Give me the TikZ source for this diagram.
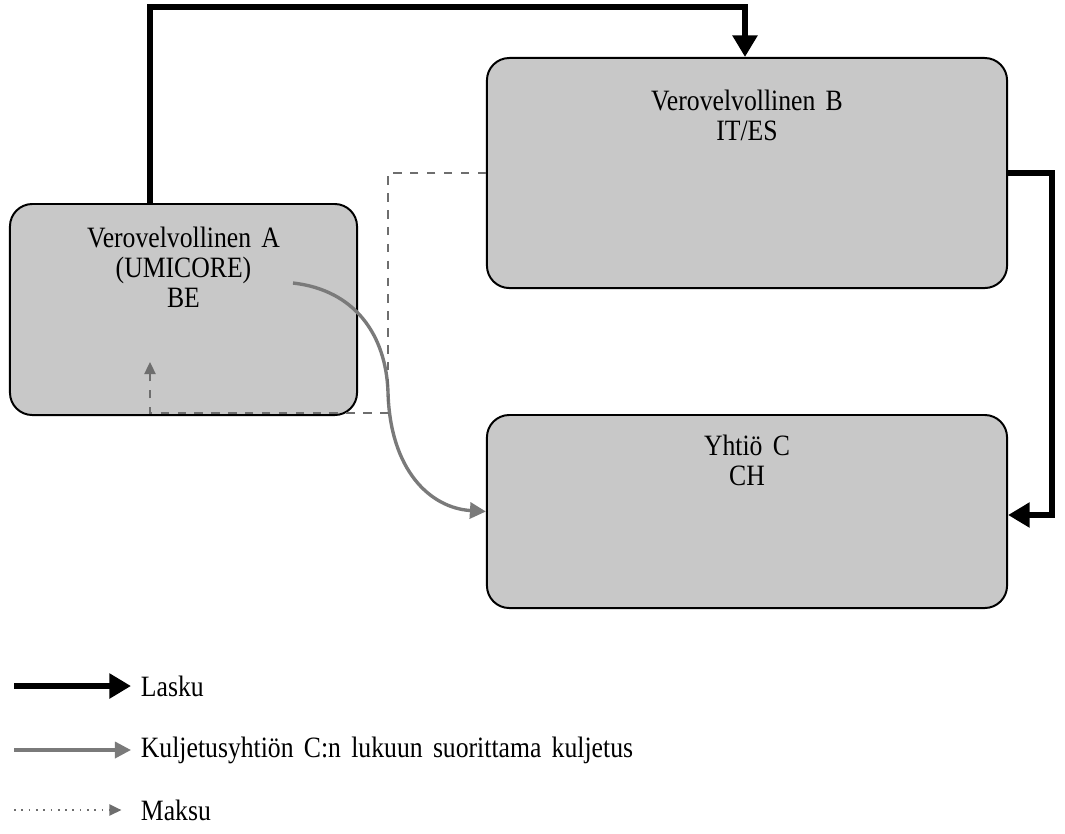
\documentclass[tikz,border=0pt]{standalone}
\usepackage{fontspec}
\setmainfont{Liberation Serif}[FakeStretch=0.87, WordSpace=1.6]
\usetikzlibrary{arrows.meta,positioning}

\definecolor{boxgray}{RGB}{200,200,200}
\definecolor{transportgray}{RGB}{122,122,122}
\definecolor{paygray}{RGB}{110,110,110}

\tikzset{
  box/.style={draw, line width=0.7pt, fill=boxgray, rounded corners=0.28cm},
  boxtext/.style={align=center, font=\fontsize{10.5}{10.6}\selectfont},
  legtext/.style={anchor=west, font=\fontsize{10.5}{12}\selectfont},
  lasku/.style={line width=2.1pt, -{Triangle[length=0.27cm,width=0.3cm]}},
  kuljetus/.style={transportgray, line width=1.2pt, -{Triangle[length=0.2cm,width=0.2cm]}},
  maksu/.style={paygray, line width=0.6pt, dashed, -{Triangle[length=0.15cm,width=0.14cm]}}
}

\begin{document}
\begin{tikzpicture}[x=0.0125cm, y=-0.0125cm]

  \useasboundingbox (0,0) rectangle (1065,833);

  % Laatikot
  \node[box, minimum width=4.3375cm, minimum height=2.6375cm] (A) at (183.5,309.5) {};
  \node[box, minimum width=6.5cm, minimum height=2.875cm] (B) at (747,173) {};
  \node[box, minimum width=6.5cm, minimum height=2.4125cm] (C) at (747,511.5) {};

  % Tekstit
  \node[boxtext, anchor=north] (Atext) at ([yshift=-0.175cm]A.north)
    {Verovelvollinen A\\(UMICORE)\\BE};
  \node[boxtext, anchor=north] (Btext) at ([yshift=-0.29cm]B.north)
    {Verovelvollinen B\\IT/ES};
  \node[boxtext, anchor=north] (Ctext) at ([yshift=-0.14cm]C.north)
    {Yhtiö C\\CH};

  % Lasku A -> B
  \coordinate (top1) at (150,7);
  \coordinate (top2) at (745,7);
  \draw[lasku] (A.north -| top1) -- (top1) -- (top2) -- (B.north -| top2);

  % Lasku B -> C
  \coordinate (right1) at (1052,173);
  \coordinate (right2) at (1052,515);
  \draw[lasku] (B.east) -- (right1) -- (right2) -- (C.east |- right2);

  % Kuljetus A -> C
  \coordinate (kstart) at (293,283);
  \coordinate (kmid) at (388,392);
  \draw[kuljetus] (kstart) .. controls (355,290) and (386,335) .. (kmid)
    .. controls (390,470) and (430,508) .. (C.west);

  % Maksu B -> A
  \coordinate (pay1) at (388,173);
  \coordinate (pay2) at (388,413);
  \coordinate (pay3) at (150,413);
  \coordinate (payend) at (150,362);
  \draw[maksu] (B.west) -- (pay1) -- (pay2) -- (pay3) -- (payend);

  % Selite
  \node[legtext] (leg1) at (131,686) {Lasku};
  \node[legtext] (leg2) at (131,750) {Kuljetusyhtiön C:n lukuun suorittama kuljetus};
  \node[legtext] (leg3) at (131,810) {Maksu};
  \coordinate (leg1s) at (14,686);
  \coordinate (leg2s) at (14,750);
  \coordinate (leg3s) at (14,810);
  \draw[lasku] (leg1s) -- (leg1.west);
  \draw[kuljetus] (leg2s) -- (leg2.west);
  \draw[maksu, dotted, shorten >=0.12cm] (leg3s) -- (leg3.west);

\end{tikzpicture}
\end{document}
